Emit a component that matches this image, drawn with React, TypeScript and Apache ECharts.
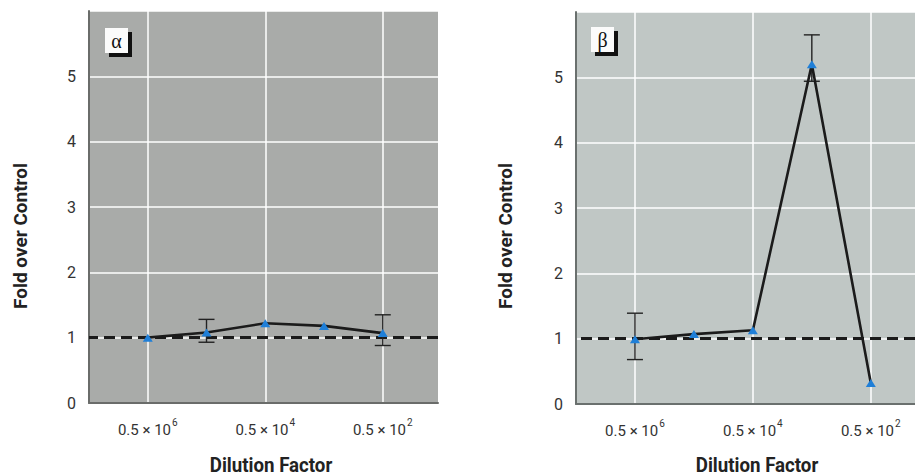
import React, { useEffect, useRef } from "react";
import * as echarts from "echarts";

// ---- data ----
const dilutionExponents = [6, 5, 4, 3, 2]; // dilution = 0.5 x 10^exp
const tickExponents = [6, 4, 2];
const foldAlpha = [1.0, 1.08, 1.22, 1.18, 1.07];
const errLowAlpha: (number | null)[] = [null, 0.93, null, null, 0.88];
const errHighAlpha: (number | null)[] = [null, 1.28, null, null, 1.35];
const foldBeta = [0.99, 1.07, 1.13, 5.2, 0.32];
const errLowBeta: (number | null)[] = [0.68, null, null, 4.94, null];
const errHighBeta: (number | null)[] = [1.39, null, null, 5.65, null];
const panelLabels = ["α", "β"];
const controlLevel = 1;
const yTitle = "Fold over Control";
const xTitle = "Dilution Factor";

const FONT = "Roboto, 'Liberation Sans', sans-serif";

function errData(low: (number | null)[], high: (number | null)[]) {
  const out: number[][] = [];
  dilutionExponents.forEach((x, i) => {
    const lo = low[i];
    const hi = high[i];
    if (lo != null && hi != null) out.push([x, lo, hi]);
  });
  return out;
}

function errorSeries(idx: number, data: number[][]) {
  return {
    type: "custom",
    xAxisIndex: idx,
    yAxisIndex: idx,
    z: 3,
    data,
    encode: { x: 0, y: [1, 2] },
    renderItem: (params: any, api: any) => {
      const x = api.value(0);
      const pLo = api.coord([x, api.value(1)]);
      const pHi = api.coord([x, api.value(2)]);
      const w = 8;
      const st = { stroke: "#222", lineWidth: 1.4 };
      return {
        type: "group",
        children: [
          { type: "line", shape: { x1: pLo[0], y1: pLo[1], x2: pHi[0], y2: pHi[1] }, style: st },
          { type: "line", shape: { x1: pLo[0] - w, y1: pLo[1], x2: pLo[0] + w, y2: pLo[1] }, style: st },
          { type: "line", shape: { x1: pHi[0] - w, y1: pHi[1], x2: pHi[0] + w, y2: pHi[1] }, style: st },
        ],
      };
    },
  };
}

function lineSeries(idx: number, values: number[]) {
  return {
    type: "line",
    xAxisIndex: idx,
    yAxisIndex: idx,
    z: 4,
    data: dilutionExponents.map((x, i) => [x, values[i]]),
    symbol: "triangle",
    symbolSize: [10, 8],
    itemStyle: { color: "#1f7fd8" },
    lineStyle: { color: "#1b1b1b", width: 2.6 },
    markLine: {
      silent: true,
      symbol: "none",
      z: 1,
      label: { show: false },
      lineStyle: { color: "#1b1b1b", width: 3, type: [11, 6] },
      data: [{ yAxis: controlLevel }],
    },
  };
}

function makeX(idx: number, min: number, axisColor: string) {
  return {
    type: "value",
    gridIndex: idx,
    inverse: true,
    min,
    max: 7,
    axisLine: { show: true, onZero: false, lineStyle: { color: axisColor, width: 2 } },
    axisTick: { show: false, customValues: tickExponents },
    splitLine: { show: true, lineStyle: { color: "#ffffff", width: 1.5 } },
    axisLabel: {
      customValues: tickExponents,
      margin: 14,
      formatter: (v: number) => `{b|0.5 × 10}{s|${v}}`,
      rich: {
        b: { fontFamily: FONT, fontSize: 15, color: "#333", lineHeight: 20, verticalAlign: "bottom" },
        s: { fontFamily: FONT, fontSize: 10, color: "#333", lineHeight: 20, verticalAlign: "top", padding: [0, 0, 9, 1] },
      },
    },
  };
}

function makeY(idx: number, axisColor: string) {
  return {
    type: "value",
    gridIndex: idx,
    min: 0,
    max: 6,
    interval: 1,
    axisLine: { show: true, lineStyle: { color: axisColor, width: 2 } },
    axisTick: { show: false },
    splitLine: { show: true, lineStyle: { color: "#ffffff", width: 1.5 } },
    axisLabel: {
      margin: 13,
      fontFamily: FONT,
      fontSize: 16,
      color: "#333",
      formatter: (v: number) => (v >= 6 ? "" : String(v)),
    },
  };
}

function panelLabel(x: number, y: number, text: string) {
  return {
    type: "group",
    x,
    y,
    children: [
      { type: "rect", shape: { x: 4, y: 4, width: 23, height: 25 }, style: { fill: "#111" } },
      { type: "rect", shape: { x: 0, y: 0, width: 23, height: 25 }, style: { fill: "#fbfbfb" } },
      {
        type: "text",
        x: 11.5,
        y: 12.5,
        style: {
          text,
          fontFamily: "'Liberation Serif', 'DejaVu Serif', serif",
          fontSize: 20,
          fill: "#111",
          align: "center",
          verticalAlign: "middle",
        },
      },
    ],
  };
}

function titleText(x: number, y: number, text: string, rotate: boolean) {
  return {
    type: "text",
    x,
    y,
    rotation: rotate ? Math.PI / 2 : 0,
    scaleX: rotate ? 1 : 0.89,
    style: {
      text,
      fontFamily: FONT,
      fontSize: rotate ? 19 : 21,
      fontWeight: "bold",
      fill: "#222",
      align: "center",
      verticalAlign: "middle",
    },
  };
}

export default function App() {
  const ref = useRef<HTMLDivElement>(null);
  useEffect(() => {
    if (!ref.current) return;
    const chart = echarts.init(ref.current, undefined, { renderer: "svg" });
    chart.setOption({
      animation: false,
      grid: [
        { left: 89, top: 11, width: 349, height: 392, show: true, backgroundColor: "#a9aba9", borderWidth: 0, outerBoundsMode: "none", containLabel: false },
        { left: 576, top: 12, width: 339, height: 392, show: true, backgroundColor: "#c0c7c5", borderWidth: 0, outerBoundsMode: "none", containLabel: false },
      ],
      xAxis: [makeX(0, 1.06, "#6a6c6a"), makeX(1, 1.25, "#6a706e")],
      yAxis: [makeY(0, "#6a6c6a"), makeY(1, "#6a706e")],
      series: [
        errorSeries(0, errData(errLowAlpha, errHighAlpha)),
        lineSeries(0, foldAlpha),
        errorSeries(1, errData(errLowBeta, errHighBeta)),
        lineSeries(1, foldBeta),
      ],
      graphic: [
        titleText(20, 236, yTitle, true),
        titleText(505, 236, yTitle, true),
        titleText(271, 465, xTitle, false),
        titleText(757, 465, xTitle, false),
        panelLabel(105, 28, panelLabels[0]),
        panelLabel(591, 27, panelLabels[1]),
      ],
    });
    return () => chart.dispose();
  }, []);
  return (
    <div
      ref={ref}
      style={{ position: "absolute", left: 0, top: 0, width: 915, height: 476, background: "#fff" }}
    />
  );
}
